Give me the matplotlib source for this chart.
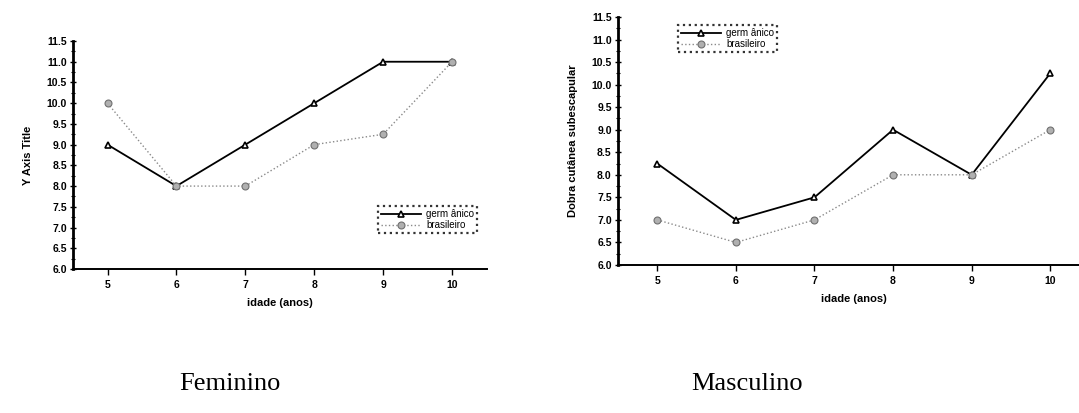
import numpy as np
import matplotlib.pyplot as plt
from matplotlib.ticker import MultipleLocator

# Dados
idade = [5, 6, 7, 8, 9, 10]
fem_germanico = [9.0, 8.0, 9.0, 10.0, 11.0, 11.0]
fem_brasileiro = [10.0, 8.0, 8.0, 9.0, 9.25, 11.0]
masc_germanico = [8.25, 7.0, 7.5, 9.0, 8.0, 10.25]
masc_brasileiro = [7.0, 6.5, 7.0, 8.0, 8.0, 9.0]
rotulos = ['germ ânico', 'brasileiro']

plt.rcParams['font.family'] = ['Liberation Sans', 'DejaVu Sans']

fig = plt.figure(figsize=(10.79, 4.13), dpi=100)


def painel(ax, germ, bras, ylabel, leg_box):
    ax.plot(idade, germ, color='black', lw=1.3, marker='^', ms=5,
            mfc='white', mec='black', mew=1.2, label=rotulos[0])
    ax.plot(idade, bras, color='#8a8a8a', lw=1.0, ls=':', marker='o', ms=5,
            mfc='#b0b0b0', mec='#707070', mew=0.8, label=rotulos[1])
    ax.set_xlim(4.5, 10.5)
    ax.set_ylim(6.0, 11.5)
    ax.set_xticks(idade)
    ax.yaxis.set_major_locator(MultipleLocator(0.5))
    ax.yaxis.set_minor_locator(MultipleLocator(0.25))
    ax.set_yticklabels([f'{v:.1f}' for v in ax.get_yticks()])
    for s in ['top', 'right']:
        ax.spines[s].set_visible(False)
    ax.spines['left'].set_linewidth(2.0)
    ax.spines['bottom'].set_linewidth(1.4)
    ax.tick_params(axis='y', which='major', direction='inout', length=5,
                   width=1, labelsize=7.5, pad=2)
    ax.tick_params(axis='y', which='minor', direction='inout', length=3,
                   width=0.8)
    ax.tick_params(axis='x', direction='out', length=4, width=1,
                   labelsize=7.5, pad=4)
    for t in ax.get_xticklabels() + ax.get_yticklabels():
        t.set_fontweight('bold')
    ax.set_xlabel('idade (anos)', fontsize=8, fontweight='bold', labelpad=6)
    ax.set_ylabel(ylabel, fontsize=8, fontweight='bold', labelpad=10)
    leg = ax.legend(loc='lower left', bbox_to_anchor=leg_box,
                    bbox_transform=fig.transFigure, fontsize=7,
                    frameon=True, fancybox=False, borderpad=0.3,
                    handlelength=4.2, handletextpad=0.5, labelspacing=0.1,
                    borderaxespad=0)
    leg.get_frame().set_edgecolor('black')
    leg.get_frame().set_linewidth(1.6)
    leg.get_frame().set_linestyle(':')


ax1 = fig.add_axes([0.0677, 0.3487, 0.3832, 0.552])
painel(ax1, fem_germanico, fem_brasileiro, 'Y Axis Title',
       (0.350, 0.436))

ax2 = fig.add_axes([0.5727, 0.3584, 0.4371, 0.6005])
painel(ax2, masc_germanico, masc_brasileiro, 'Dobra cutânea subescapular',
       (0.628, 0.874))

fig.text(0.213, 0.055, 'Feminino', fontsize=19, family='Liberation Serif',
         ha='center')
fig.text(0.692, 0.055, 'Masculino', fontsize=19, family='Liberation Serif',
         ha='center')

fig.savefig('out.png', dpi=100)
